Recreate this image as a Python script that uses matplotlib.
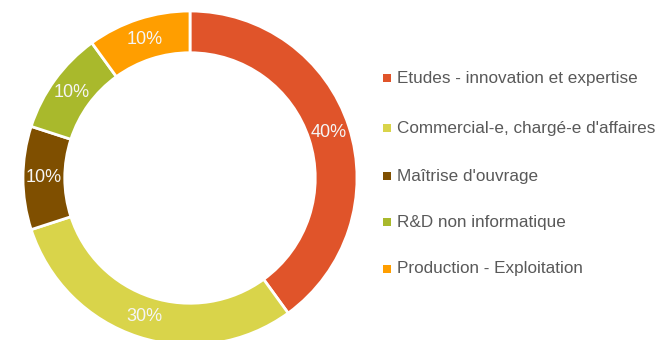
import matplotlib
matplotlib.use("Agg")
import matplotlib.pyplot as plt
from matplotlib.patches import Rectangle
from matplotlib import font_manager

# Job family breakdown
categories = [
    "Etudes - innovation et expertise",
    "Commercial-e, chargé-e d'affaires",
    "Maîtrise d'ouvrage",
    "R&D non informatique",
    "Production - Exploitation",
]
shares = [40, 30, 10, 10, 10]
colors = ["#E0542A", "#D9D44A", "#7F4F00", "#A9B92C", "#FF9E00"]

available = {f.name for f in font_manager.fontManager.ttflist}
family = "Liberation Sans Narrow" if "Liberation Sans Narrow" in available else "Liberation Sans"
plt.rcParams["font.family"] = [family, "DejaVu Sans"]
legend_size = 13 if family.endswith("Narrow") else 12.3

fig = plt.figure(figsize=(6.6, 3.4), dpi=100)
W, H = 660, 340

# Donut: centre (190, 178) px from top-left, outer radius 167 px
cx, cy, r = 190, 178, 167
ax = fig.add_axes([(cx - r) / W, (H - cy - r) / H, 2 * r / W, 2 * r / H])
wedges, texts = ax.pie(
    shares,
    colors=colors,
    startangle=90,
    counterclock=False,
    radius=1.0,
    labels=[f"{v}%" for v in shares],
    labeldistance=0.875,
    wedgeprops=dict(width=0.25, edgecolor="white", linewidth=2),
    textprops=dict(color="#F5F5F5", fontsize=13),
)
for t in texts:
    t.set_ha("center")
    t.set_va("center")
ax.set_xlim(-1, 1)
ax.set_ylim(-1, 1)
ax.set_aspect("equal")
ax.axis("off")
for w in wedges:
    w.set_clip_on(False)

# Legend drawn by hand: square marker + label
legend_y = [78, 128, 176, 222, 269]
for label, col, y in zip(categories, colors, legend_y):
    fig.add_artist(Rectangle((383 / W, (H - y - 4) / H), 8 / W, 8 / H,
                             transform=fig.transFigure, color=col, lw=0))
    fig.text(397 / W, (H - y) / H, label, color="#595959", fontsize=legend_size,
             ha="left", va="center")

fig.savefig("out.png", dpi=100)
